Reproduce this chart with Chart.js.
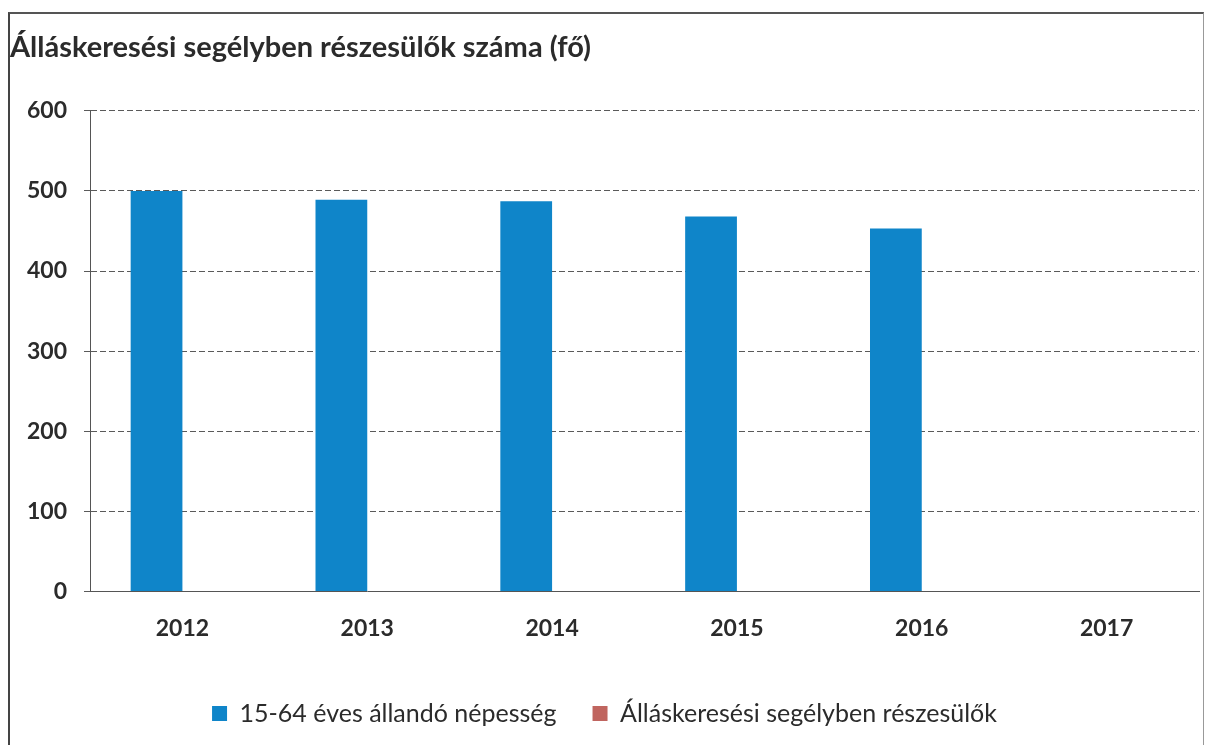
<!DOCTYPE html>
<html>
<head>
<meta charset="utf-8">
<script src="https://cdn.jsdelivr.net/npm/chart.js@4"></script>
<style>
    html, body { margin: 0; padding: 0; background: #fff; }
    #wrap {
        position: absolute;
        left: 8px; top: 12px;
        width: 1196px; height: 733px;
        border-left: 2px solid #444;
        border-top: 2px solid #555;
        border-right: 1px solid #999;
        box-sizing: border-box;
    }
    canvas { display: block; }
</style>
</head>
<body>
<div id="wrap"><canvas id="chart"></canvas></div>
<script>
// Chart data
const years = ['2012', '2013', '2014', '2015', '2016', '2017'];
const population = [500, 489, 487, 468, 453, 0];
const recipients = [0, 0, 0, 0, 0, 0];
const yTicks = [0, 100, 200, 300, 400, 500, 600];

Chart.defaults.font.family = "Lato, 'Open Sans', sans-serif";
Chart.defaults.color = '#2b2b2b';

const ctx = document.getElementById('chart').getContext('2d');
const chart = new Chart(ctx, {
    type: 'bar',
    data: {
        labels: years,
        datasets: [{
            label: '15-64 éves állandó népesség',
            data: population,
            backgroundColor: '#0F85C9',
            borderWidth: 0
        }, {
            label: 'Álláskeresési segélyben részesülők',
            data: recipients,
            backgroundColor: '#C0655F',
            borderWidth: 0
        }]
    },
    options: {
        responsive: true,
        maintainAspectRatio: false,
        animation: false,
        layout: { padding: { left: 0, right: 4, top: 0, bottom: 9 } },
        datasets: {
            bar: { categoryPercentage: 0.56, barPercentage: 1 }
        },
        plugins: {
            title: {
                display: true,
                text: 'Álláskeresési segélyben részesülők száma (fő)',
                align: 'start',
                color: '#2b2b2b',
                font: { size: 29, weight: 'bold' },
                padding: { top: 16, bottom: 46 }
            },
            legend: {
                position: 'bottom',
                labels: {
                    boxWidth: 15,
                    boxHeight: 15,
                    padding: 36,
                    color: '#2b2b2b',
                    font: { size: 25 }
                }
            },
            tooltip: { enabled: false }
        },
        scales: {
            x: {
                grid: { display: false, drawTicks: false },
                border: { color: '#555', width: 1 },
                ticks: {
                    padding: 23,
                    font: { size: 23, weight: 'bold' },
                    color: '#2b2b2b'
                }
            },
            y: {
                min: 0,
                max: 600,
                afterBuildTicks: axis => {
                    axis.ticks = yTicks.map(v => ({ value: v }));
                },
                afterFit: axis => {
                    axis.width = 80;
                },
                grid: { color: '#5a5a5a', lineWidth: 1, drawTicks: true, tickLength: 6 },
                border: { display: true, color: '#555', dash: [6, 3] },
                ticks: {
                    padding: 17,
                    font: { size: 23, weight: 'bold' },
                    color: '#2b2b2b'
                }
            }
        }
    }
});
</script>
</body>
</html>
